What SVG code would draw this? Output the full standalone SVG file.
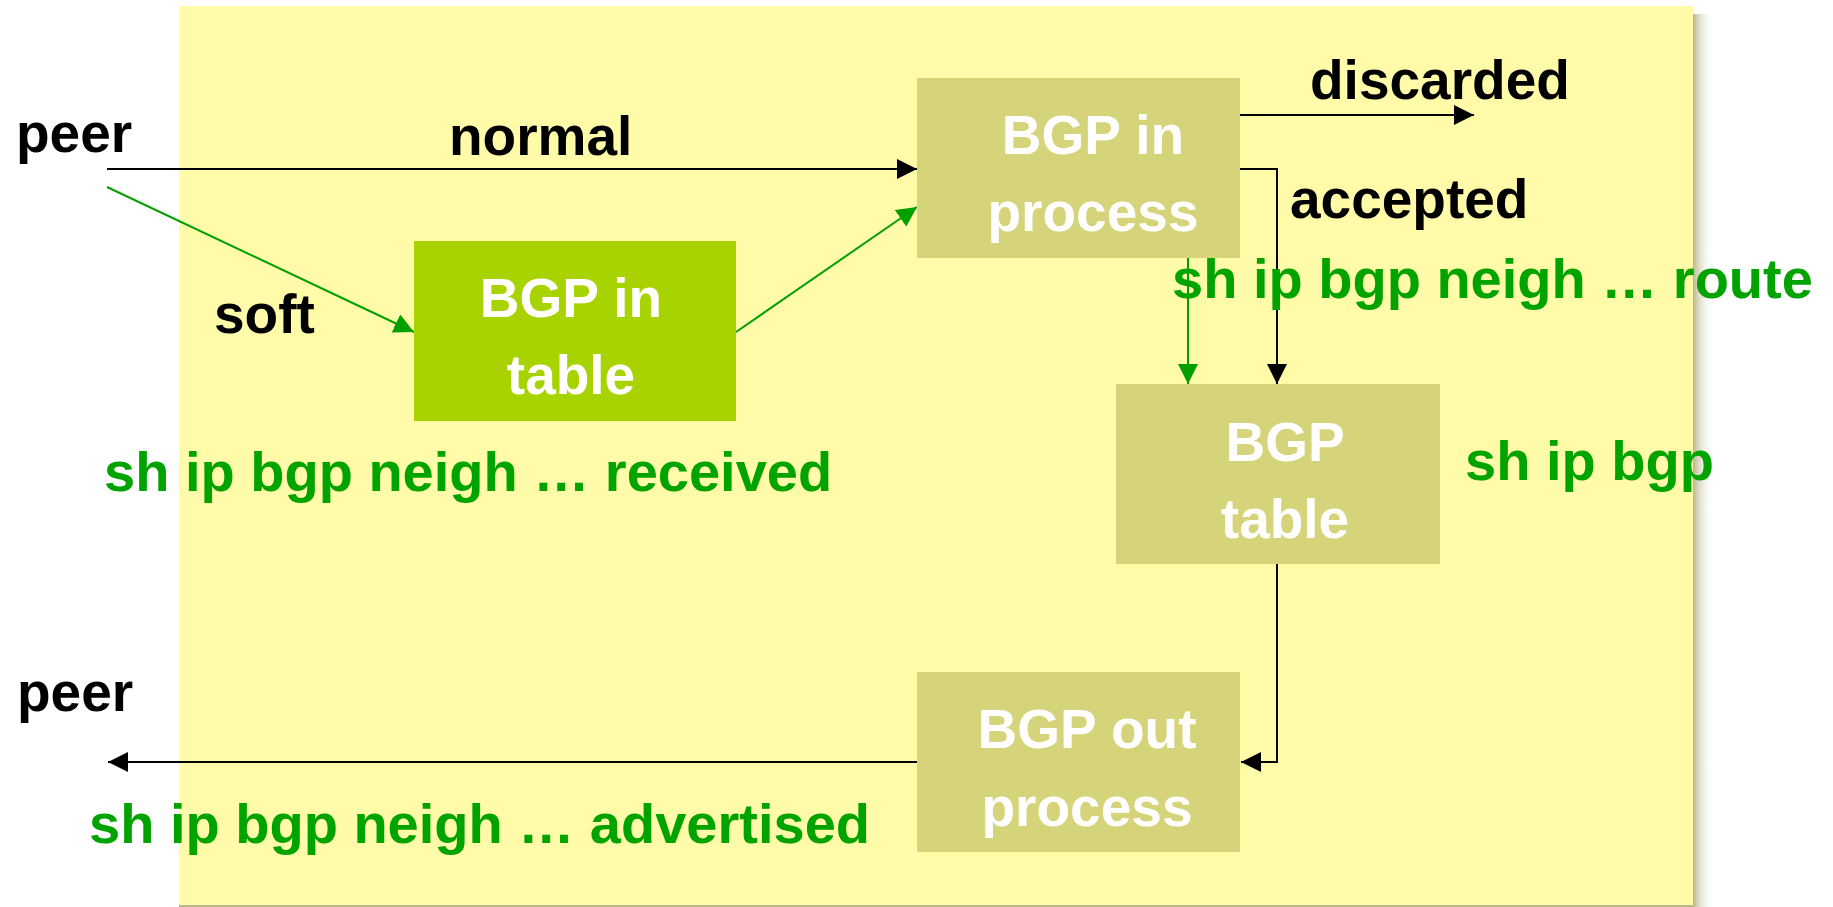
<svg xmlns="http://www.w3.org/2000/svg" width="1833" height="907" viewBox="0 0 1833 907">
  <defs>
    <linearGradient id="shadowR" x1="0" y1="0" x2="1" y2="0">
      <stop offset="0" stop-color="#b9b68a"/>
      <stop offset="1" stop-color="#ffffff" stop-opacity="0"/>
    </linearGradient>
    <marker id="arrBlack" viewBox="0 0 20 20" refX="20" refY="10" markerWidth="20" markerHeight="20" markerUnits="userSpaceOnUse" orient="auto">
      <path d="M0,0 L20,10 L0,20 Z" fill="#000"/>
    </marker>
    <marker id="arrGreen" viewBox="0 0 20 20" refX="20" refY="10" markerWidth="20" markerHeight="20" markerUnits="userSpaceOnUse" orient="auto">
      <path d="M0,0 L20,10 L0,20 Z" fill="#00a000"/>
    </marker>
  </defs>
  <style>
    text { font-family: "Liberation Sans", Arial, sans-serif; font-weight: bold; font-size: 55px; }
    .lbl { fill: #000; }
    .cmd { fill: #00a300; font-size: 56px; }
    .box { fill: #d6d47b; }
    .boxg { fill: #a9d300; }
    .bt { fill: #fff; text-anchor: middle; }
    .ln { fill: none; stroke: #000; stroke-width: 2; }
    .lg { fill: none; stroke: #00a000; stroke-width: 2; }
  </style>

  <rect x="0" y="0" width="1833" height="907" fill="#fff"/>

  <!-- panel -->
  <g id="panel">
    <rect x="1693" y="14" width="20" height="893" fill="url(#shadowR)"/>
    <rect x="179" y="6" width="1514" height="901" fill="#fffba8"/>
    <line x1="179" y1="906" x2="1693" y2="906" stroke="#b9b68a" stroke-width="2"/>
  </g>

  <!-- connectors -->
  <g id="connectors">
    <line class="ln" x1="107" y1="169" x2="917" y2="169" marker-end="url(#arrBlack)"/>
    <line class="lg" x1="107" y1="187" x2="414" y2="332" marker-end="url(#arrGreen)"/>
    <line class="lg" x1="736" y1="332" x2="917" y2="207" marker-end="url(#arrGreen)"/>
    <line class="ln" x1="1240" y1="115" x2="1474" y2="115" marker-end="url(#arrBlack)"/>
    <polyline class="ln" points="1240,169 1277,169 1277,384" marker-end="url(#arrBlack)"/>
    <line class="lg" x1="1188" y1="258" x2="1188" y2="384" marker-end="url(#arrGreen)"/>
    <polyline class="ln" points="1277,564 1277,762 1241,762" marker-end="url(#arrBlack)"/>
    <line class="ln" x1="917" y1="762" x2="108" y2="762" marker-end="url(#arrBlack)"/>
  </g>

  <g id="in-process">
    <rect class="box" x="917" y="78" width="323" height="180"/>
    <text class="bt" x="1093" y="154">BGP in</text>
    <text class="bt" x="1093" y="231">process</text>
  </g>

  <g id="in-table">
    <rect class="boxg" x="414" y="241" width="322" height="180"/>
    <text class="bt" x="571" y="317">BGP in</text>
    <text class="bt" x="571" y="394">table</text>
  </g>

  <g id="bgp-table">
    <rect class="box" x="1116" y="384" width="324" height="180"/>
    <text class="bt" x="1285" y="461">BGP</text>
    <text class="bt" x="1285" y="538">table</text>
  </g>

  <g id="out-process">
    <rect class="box" x="917" y="672" width="323" height="180"/>
    <text class="bt" x="1087" y="748">BGP out</text>
    <text class="bt" x="1087" y="826">process</text>
  </g>

  <!-- labels -->
  <g id="labels">
    <text class="lbl" x="16" y="152">peer</text>
    <text class="lbl" x="449" y="155">normal</text>
    <text class="lbl" x="214" y="333">soft</text>
    <text class="lbl" x="1310" y="99">discarded</text>
    <text class="lbl" x="1290" y="218">accepted</text>
    <text class="lbl" x="17" y="711">peer</text>
    <text class="cmd" x="1172" y="298">sh ip bgp neigh … route</text>
    <text class="cmd" x="104" y="491">sh ip bgp neigh … received</text>
    <text class="cmd" x="1465" y="480">sh ip bgp</text>
    <text class="cmd" x="89" y="843">sh ip bgp neigh … advertised</text>
  </g>
</svg>
